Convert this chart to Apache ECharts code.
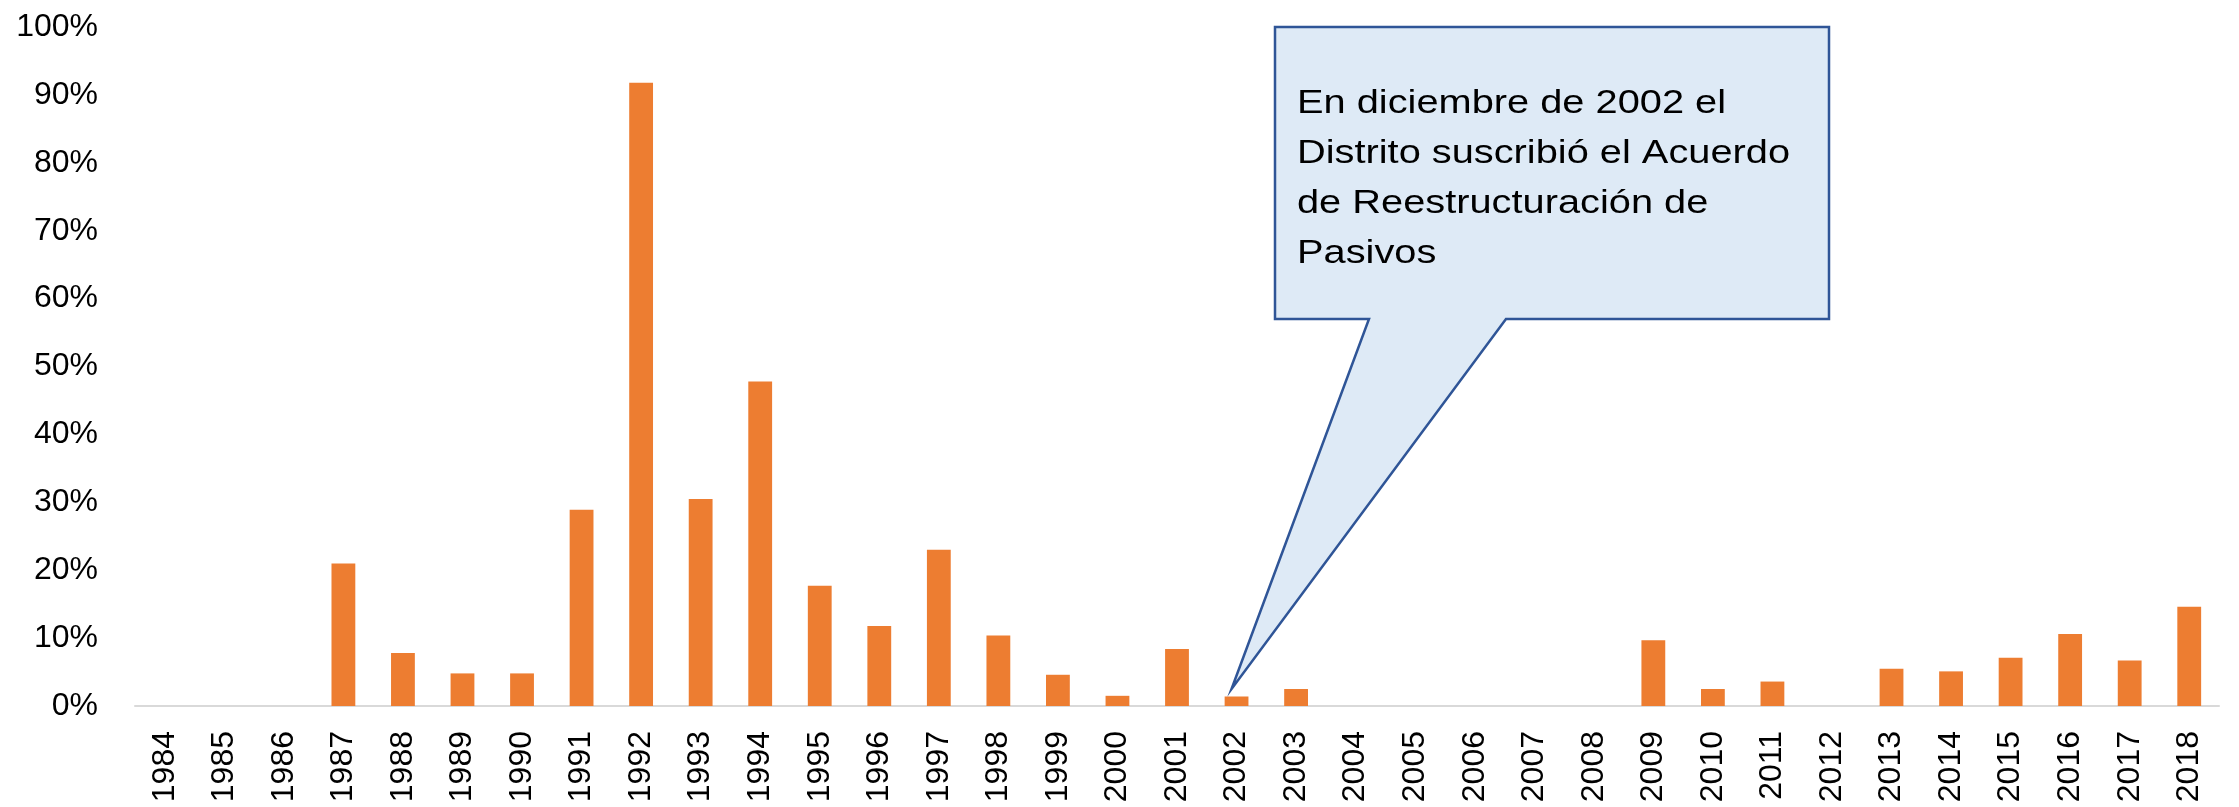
<!DOCTYPE html>
<html>
<head>
<meta charset="utf-8">
<script src="https://cdn.jsdelivr.net/npm/echarts@6/dist/echarts.min.js"></script>
<style>
  html, body { margin: 0; padding: 0; background: #fff; }
  #chart { width: 2239px; height: 807px; }
</style>
</head>
<body>
<div id="chart"></div>
<script>
  // años y porcentaje
  const years = ['1984', '1985', '1986', '1987', '1988', '1989', '1990', '1991', '1992', '1993',
    '1994', '1995', '1996', '1997', '1998', '1999', '2000', '2001', '2002', '2003',
    '2004', '2005', '2006', '2007', '2008', '2009', '2010', '2011', '2012', '2013',
    '2014', '2015', '2016', '2017', '2018']
  const values = [0, 0, 0, 21.0, 7.8, 4.8, 4.8, 28.9, 91.8, 30.5,
    47.8, 17.7, 11.8, 23.0, 10.4, 4.6, 1.5, 8.4, 1.4, 2.5,
    0, 0, 0, 0, 0, 9.7, 2.5, 3.6, 0, 5.5,
    5.1, 7.1, 10.6, 6.7, 14.6]
  const yTicks = [0, 10, 20, 30, 40, 50, 60, 70, 80, 90, 100]
  const calloutLines = ['En diciembre de 2002 el', 'Distrito suscribió el Acuerdo', 'de Reestructuración de', 'Pasivos']
  const calloutYear = '2002'

  let chart = echarts.init(document.getElementById('chart'), null, {width: 2239, height: 807})
  chart.setOption({
    animation: false,
    backgroundColor: '#fff',
    grid: {left: 135, right: 20, top: 27, bottom: 101},
    xAxis: {
      type: 'category',
      data: years,
      axisLine: {lineStyle: {color: '#d9d9d9', width: 2}},
      axisTick: {show: false},
      axisLabel: {
        interval: 0,
        rotate: 90,
        margin: 25,
        color: '#000',
        fontSize: 32,
        fontFamily: 'Liberation Sans'
      }
    },
    yAxis: {
      type: 'value',
      min: yTicks[0],
      max: yTicks[yTicks.length - 1],
      interval: 10,
      axisLine: {show: false},
      axisTick: {show: false},
      splitLine: {show: false},
      axisLabel: {
        formatter: '{value}%',
        margin: 37,
        color: '#000',
        fontSize: 32,
        fontFamily: 'Liberation Sans'
      }
    },
    series: [{
      type: 'bar',
      data: values,
      barWidth: '40%',
      itemStyle: {color: '#ED7D31'}
    }]
  })

  // globo de texto apuntando a la barra de 2002
  let tip = chart.convertToPixel({xAxisIndex: 0, yAxisIndex: 0}, [calloutYear, 2.5])
  let box = {x1: 1275, y1: 27, x2: 1829, y2: 319}
  chart.setOption({
    graphic: [{
      type: 'polygon',
      shape: {
        points: [
          [box.x1, box.y1], [box.x2, box.y1], [box.x2, box.y2],
          [1506, box.y2], [tip[0] - 5, tip[1]], [1369, box.y2], [box.x1, box.y2]
        ]
      },
      style: {fill: '#DEEAF6', stroke: '#2F5597', lineWidth: 2.5},
      z: 10
    }, {
      type: 'text',
      x: 1297,
      y: 79,
      scaleX: 1.17,
      style: {
        text: calloutLines.join('\n'),
        font: '34px "Liberation Sans", Arial, sans-serif',
        lineHeight: 50,
        fill: '#000',
        verticalAlign: 'top'
      },
      z: 11
    }]
  })
</script>
</body>
</html>
